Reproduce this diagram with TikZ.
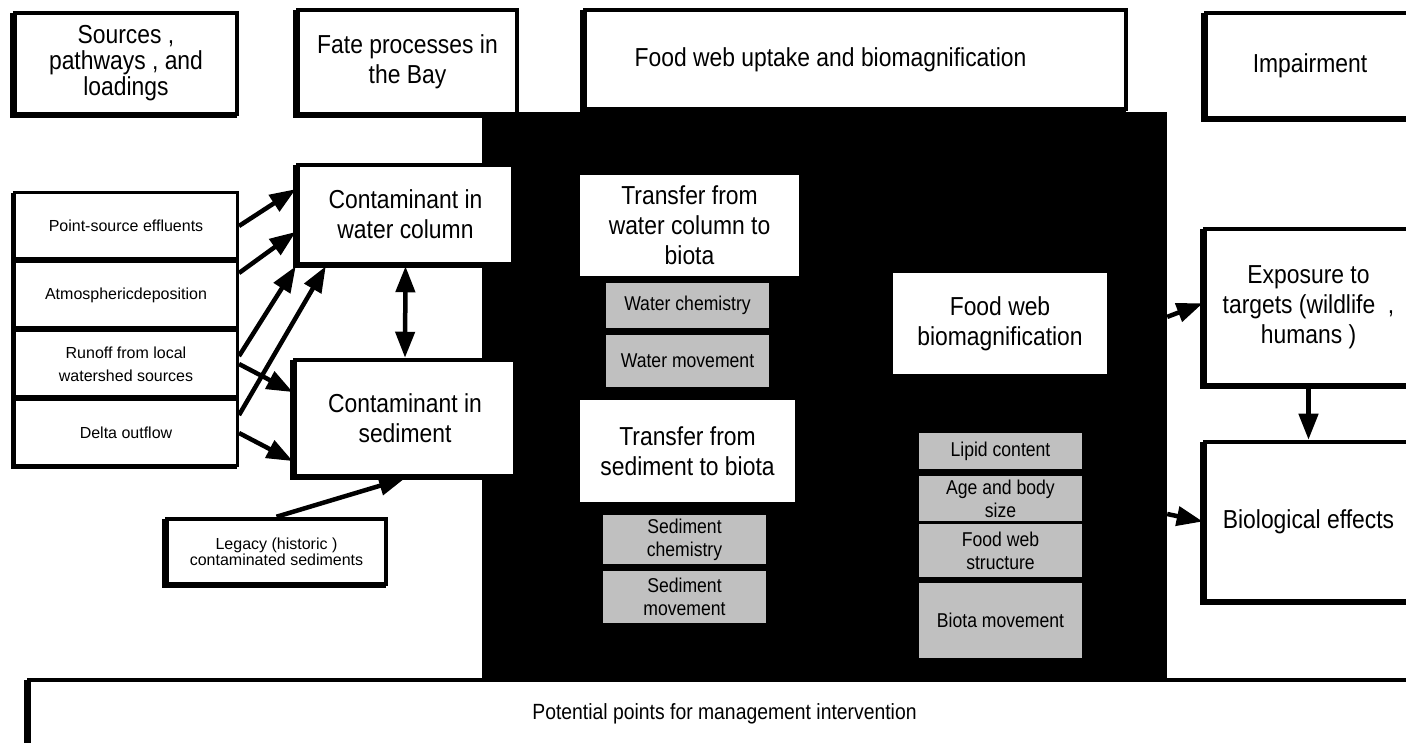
\documentclass[tikz,border=0pt]{standalone}
\usepackage{fontspec}
\setmainfont{Liberation Sans}
\newfontfamily\narrowsans[FakeStretch=0.88]{Liberation Sans}
\usetikzlibrary{arrows.meta,shadows}
\definecolor{factorgray}{RGB}{192,192,192}
\begin{document}
\begin{tikzpicture}[>={Triangle[length=26bp,width=19bp]},line join=miter,
  shbox/.style={draw,fill=white,inner sep=0pt,align=center,
    general shadow={draw=black,fill=black,shadow xshift=-2.5bp,shadow yshift=-2bp}},
  hdr/.style={shbox,line width=4.5bp,font=\narrowsans\fontsize{26bp}{30bp}\selectfont},
  src/.style={shbox,line width=3bp,font=\fontsize{16bp}{23bp}\selectfont},
  stage/.style={fill=white,inner sep=0pt,align=center,font=\narrowsans\fontsize{26bp}{30bp}\selectfont},
  factor/.style={fill=factorgray,inner sep=0pt,align=center,font=\narrowsans\fontsize{20bp}{23bp}\selectfont},
  flow/.style={black,line width=4.5bp,->},
]
\useasboundingbox (0bp,0bp) rectangle (1406bp,743bp);
%%
\node (bay) at (824.5bp,347bp) [fill=black,inner sep=0pt,minimum width=685bp,minimum height=568bp] {};
%
\node (sources) at (126bp,679.5bp) [hdr,minimum width=222bp,minimum height=101bp,font=\narrowsans\fontsize{26bp}{26bp}\selectfont] {Sources ,\\pathways , and\\loadings};
  \node (fate) at (407.5bp,681bp) [hdr,minimum width=219bp,minimum height=104bp] {Fate processes in\\the Bay};
  \node (uptake) at (855.5bp,683.5bp) [hdr,minimum width=541bp,minimum height=99bp,
    label={[xshift=-25bp,font=\narrowsans\fontsize{26bp}{30bp}\selectfont]center:Food web uptake and biomagnification}] {};
  \node (impair) at (1310bp,677.5bp) [hdr,minimum width=208bp,minimum height=105bp] {Impairment};
  \node (mgmt) at (724.5bp,29bp) [hdr,minimum width=1391bp,minimum height=68bp,font=\narrowsans\fontsize{22bp}{26bp}\selectfont] {Potential points for management intervention};
%
\node (effl) at (126bp,517bp) [src,minimum width=223bp,minimum height=66bp] {Point-source effluents};
  \node (atmo) at (126bp,448bp) [src,minimum width=223bp,minimum height=66bp] {Atmosphericdeposition};
  \node (runoff) at (126bp,379bp) [src,minimum width=223bp,minimum height=66bp] {Runoff from local\\watershed sources};
  \node (delta) at (126bp,310bp) [src,minimum width=223bp,minimum height=66bp] {Delta outflow};
  \node (legacy) at (276.5bp,191.5bp) [src,line width=4.5bp,minimum width=219bp,minimum height=65bp,font=\fontsize{16bp}{14bp}\selectfont] {Legacy (historic )\\contaminated sediments};
%
\node (wcol) at (405.5bp,528.5bp) [hdr,minimum width=215bp,minimum height=99bp] {Contaminant in\\water column};
  \node (sed) at (405bp,325bp) [hdr,minimum width=220bp,minimum height=116bp] {Contaminant in\\sediment};
%
\node (twater) at (689.5bp,517.5bp) [stage,minimum width=219bp,minimum height=101bp] {Transfer from\\water column to\\biota};
  \node (wchem) at (687.5bp,437.5bp) [factor,minimum width=163bp,minimum height=45bp] {Water chemistry};
  \node (wmove) at (687.5bp,382bp) [factor,minimum width=163bp,minimum height=52bp] {Water movement};
  \node (tsed) at (687.5bp,292bp) [stage,minimum width=215bp,minimum height=102bp] {Transfer from\\sediment to biota};
  \node (schem) at (684.5bp,203.5bp) [factor,minimum width=163bp,minimum height=49bp] {Sediment\\chemistry};
  \node (smove) at (684.5bp,146bp) [factor,minimum width=163bp,minimum height=52bp] {Sediment\\movement};
%
\node (biomag) at (1000bp,419.5bp) [stage,minimum width=214bp,minimum height=101bp] {Food web\\biomagnification};
  \node (lipid) at (1000.5bp,292bp) [factor,minimum width=163bp,minimum height=36bp] {Lipid content};
  \node (agesize) at (1000.5bp,244.5bp) [factor,minimum width=163bp,minimum height=45bp] {Age and body\\size};
  \node (webstr) at (1000.5bp,192.5bp) [factor,minimum width=163bp,minimum height=53bp] {Food web\\structure};
  \node (biomove) at (1000.5bp,122.5bp) [factor,minimum width=163bp,minimum height=75bp] {Biota movement};
%
\node (expo) at (1308.5bp,436bp) [hdr,minimum width=207bp,minimum height=156bp] {Exposure to\\targets (wildlife\ \ ,\\humans )};
  \node (bio) at (1308.5bp,221.5bp) [hdr,minimum width=207bp,minimum height=159bp] {Biological effects};
%
\draw [flow] (effl.east) -- (wcol.167);
  \draw [flow] (atmo.11) -- (wcol.189);
  \draw [flow] (runoff.4) -- (wcol.south west);
  \draw [flow] (delta.9) -- (wcol.213);
  \draw [flow] (runoff.east) -- (sed.167);
  \draw [flow] (delta.east) -- (sed.201);
  \draw [flow] (legacy.north) -- (sed.south);
  \draw [flow,<->] (wcol.south) -- (sed.north);
  \draw [flow] (bay.13.6) -- (expo.178);
  \draw [flow] (bay.-19.2) -- (bio.west);
  \draw [flow] (expo.south) -- (bio.north);
%
\end{tikzpicture}
\end{document}
